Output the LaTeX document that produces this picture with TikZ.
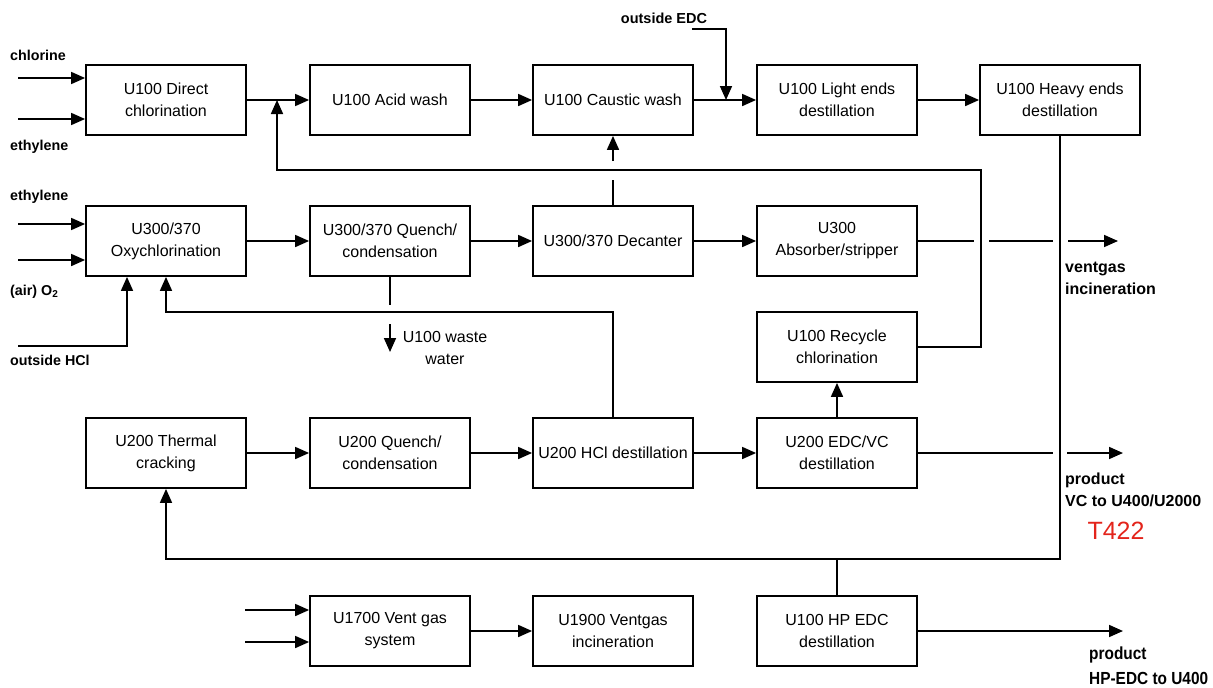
\documentclass[tikz,border=0pt]{standalone}
\usepackage{fontspec}
\setmainfont{Liberation Sans}
\usetikzlibrary{arrows.meta}
\definecolor{tred}{HTML}{E3241B}
\begin{document}
\begin{tikzpicture}[x=1pt,y=-1pt,
  box/.style={draw, line width=1.8pt, minimum width=160pt, minimum height=70pt, align=center,
    font=\fontsize{16}{22}\selectfont, inner sep=2pt},
  ln/.style={line width=1.7pt},
  arr/.style={ln, -{Triangle[length=14pt,width=12pt]}},
  lbl/.style={font=\fontsize{14.3}{18}\selectfont\bfseries, inner sep=0pt, anchor=west},
  rlbl/.style={font=\fontsize{16}{22}\selectfont\bfseries, inner sep=0pt, align=left, anchor=west},
  plain/.style={font=\fontsize{16}{22}\selectfont, inner sep=0pt, align=center}]
\useasboundingbox (0,0) rectangle (1213,688);

% boxes
\node[box] (dc)  at (166,100) {U100 Direct\\chlorination};
\node[box] (aw)  at (390,100) {U100 Acid wash};
\node[box] (cw)  at (613,100) {U100 Caustic wash};
\node[box] (le)  at (837,100) {U100 Light ends\\destillation};
\node[box] (he)  at (1060,100) {U100 Heavy ends\\destillation};

\node[box] (oxy) at (166,241) {U300/370\\Oxychlorination};
\node[box] (q1)  at (390,241) {U300/370 Quench/\\condensation};
\node[box] (dec) at (613,241) {U300/370 Decanter};
\node[box] (abs) at (837,241) {U300\\Absorber/stripper};

\node[box] (rc)  at (837,347) {U100 Recycle\\chlorination};

\node[box] (tc)  at (166,453) {U200 Thermal\\cracking};
\node[box] (q2)  at (390,453) {U200 Quench/\\condensation};
\node[box] (hcl) at (613,453) {U200 HCl destillation};
\node[box] (edc) at (837,453) {U200 EDC/VC\\destillation};

\node[box] (vg)  at (390,631) {U1700 Vent gas\\system};
\node[box] (inc) at (613,631) {U1900 Ventgas\\incineration};
\node[box] (hp)  at (837,631) {U100 HP EDC\\destillation};

% labels
\node[lbl] (lcl) at (10,55) {chlorine};
\node[lbl] (let1) at (10,147) {ethylene};
\node[lbl] (let2) at (10,197) {ethylene};
\node[lbl] (lo2) at (10,292) {(air) O\textsubscript{2}};
\node[lbl] (lhcl) at (10,360) {outside HCl};
\node[font=\fontsize{14.5}{18}\selectfont\bfseries, inner sep=0pt] (ledc) at (664,18) {outside EDC};
\node[rlbl] (lvent) at (1065,278) {ventgas\\incineration};
\node[rlbl] (lvc) at (1065,490) {product\\VC to U400/U2000};
\node[font=\fontsize{25}{30}\selectfont, text=tred, inner sep=0pt] (t422) at (1116,531) {T422};
\node[rlbl, font=\fontsize{17.5}{25}\selectfont\bfseries] (lhp) at (1089,666)
  {\scalebox{0.88}[1]{product}\\\scalebox{0.88}[1]{HP-EDC to U400}};
\node[plain] (lww) at (445,348) {U100 waste\\water};

% row 1 inputs
\coordinate (i1) at (18,78);
\coordinate (i2) at (18,119);
\draw[arr] (i1) -- (i1 -| dc.west);
\draw[arr] (i2) -- (i2 -| dc.west);
\draw[arr] (dc.east) -- (aw.west);
\draw[arr] (aw.east) -- (cw.west);
\draw[arr] (cw.east) -- (le.west);
\draw[arr] (le.east) -- (he.west);

% outside EDC
\coordinate (e1) at (692,29);
\coordinate (e2) at (726,29);
\coordinate (e3) at (726,100);
\draw[arr] (e1) -- (e2) -- (e3);

% recycle loop
\coordinate (r1) at (981,347);
\coordinate (r2) at (981,170);
\coordinate (r3) at (277,170);
\coordinate (r4) at (277,100);
\draw[arr] (rc.east) -- (r1) -- (r2) -- (r3) -- (r4);

% decanter to caustic wash (with gap)
\coordinate (d1) at (613,180);
\coordinate (d2) at (613,161);
\draw[ln] (dec.north) -- (d1);
\draw[arr] (d2) -- (cw.south);

% row 2 inputs
\coordinate (j1) at (18,224);
\coordinate (j2) at (18,260);
\draw[arr] (j1) -- (j1 -| oxy.west);
\draw[arr] (j2) -- (j2 -| oxy.west);
\coordinate (h1) at (18,346);
\coordinate (h2) at (127,346);
\draw[arr] (h1) -- (h2) -- (h2 |- oxy.south);

\draw[arr] (oxy.east) -- (q1.west);
\draw[arr] (q1.east) -- (dec.west);
\draw[arr] (dec.east) -- (abs.west);

% HCl recycle to oxychlorination
\coordinate (k1) at (613,312);
\coordinate (k2) at (166,312);
\draw[arr] (hcl.north) -- (k1) -- (k2) -- (oxy.south);

% waste water
\coordinate (w1) at (390,305);
\coordinate (w2) at (390,324);
\coordinate (w3) at (390,352);
\draw[ln] (q1.south) -- (w1);
\draw[arr] (w2) -- (w3);

% ventgas line with gaps
\coordinate (v1) at (974,241);
\coordinate (v2) at (989,241);
\coordinate (v3) at (1053,241);
\coordinate (v4) at (1068,241);
\coordinate (v5) at (1118,241);
\draw[ln] (abs.east) -- (v1);
\draw[ln] (v2) -- (v3);
\draw[arr] (v4) -- (v5);

% row 3
\draw[arr] (tc.east) -- (q2.west);
\draw[arr] (q2.east) -- (hcl.west);
\draw[arr] (hcl.east) -- (edc.west);
\draw[arr] (edc.north) -- (rc.south);
\coordinate (p1) at (1053,453);
\coordinate (p2) at (1067,453);
\coordinate (p3) at (1123,453);
\draw[ln] (edc.east) -- (p1);
\draw[arr] (p2) -- (p3);

% heavy ends to thermal cracking
\coordinate (m1) at (1060,559);
\coordinate (m2) at (166,559);
\draw[arr] (he.south) -- (m1) -- (m2) -- (tc.south);
\draw[ln] (hp.north) -- (hp.north |- m1);

% row 4
\coordinate (n1) at (245,610);
\coordinate (n2) at (245,642);
\draw[arr] (n1) -- (n1 -| vg.west);
\draw[arr] (n2) -- (n2 -| vg.west);
\draw[arr] (vg.east) -- (inc.west);
\coordinate (o1) at (1123,631);
\draw[arr] (hp.east) -- (o1);
\end{tikzpicture}
\end{document}
